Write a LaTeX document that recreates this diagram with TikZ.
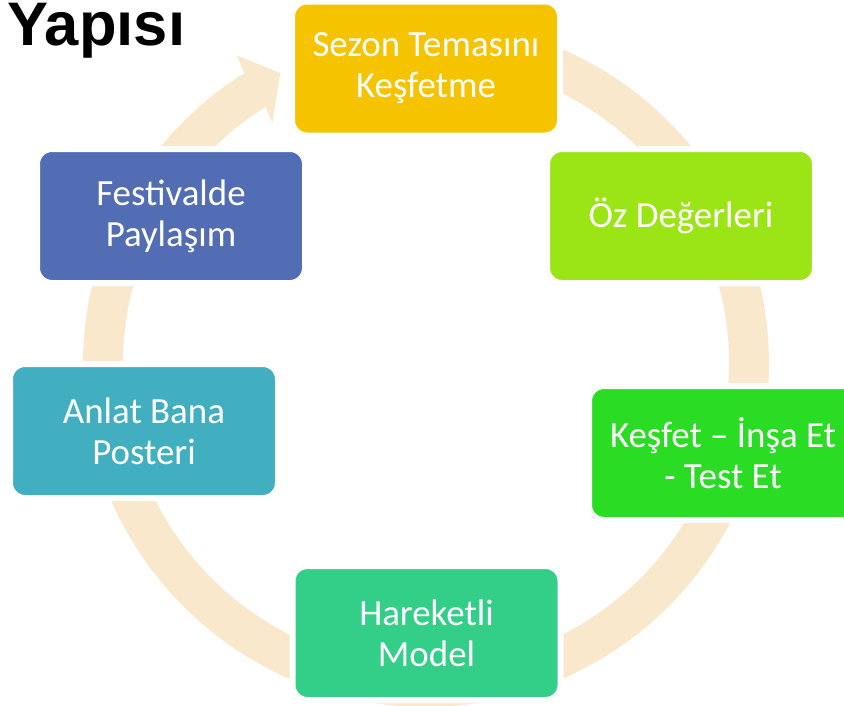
\documentclass[tikz,border=0pt]{standalone}
\usepackage{fontspec}
\setmainfont{Carlito}
\newfontfamily\titlefont{Liberation Sans}
\usepackage{tikz}
\usetikzlibrary{calc}
\definecolor{ringbeige}{RGB}{250,232,205}
\definecolor{cyyellow}{RGB}{245,195,0}
\definecolor{cylime}{RGB}{155,229,22}
\definecolor{cygreen}{RGB}{42,221,36}
\definecolor{cymint}{RGB}{51,206,136}
\definecolor{cyteal}{RGB}{65,175,192}
\definecolor{cyblue}{RGB}{83,109,180}
\tikzset{
    every node/.style={font=\fontsize{21}{23.3}\selectfont},
    cyclebox/.style={draw=white, line width=0.12cm, rounded corners=0.3cm, text=white,
        minimum width=5.36cm, minimum height=2.68cm, align=center},
    ring/.style={fill=ringbeige},
}

\begin{document}
\begin{tikzpicture}
  \useasboundingbox (0,0) rectangle (16.88,14.1);
  \coordinate (c) at (8.52,6.82);
  % circular arrow behind the boxes
  \fill[ring] ($(c)+(90:6.86)$) arc[start angle=90, end angle=-238, radius=6.86cm]
    -- ($(c)+(121.5:7.24)$) -- ($(c)+(116.6:6.51)$) -- ($(c)+(122.5:5.72)$)
    -- ($(c)+(122:6.06)$) arc[start angle=-238, end angle=90, radius=6.06cm] -- cycle;

  \node[cyclebox, fill=cyyellow] (sezon) at (8.52,12.73) {Sezon Temasını\\Keşfetme};
  \node[cyclebox, fill=cylime] (oz) at (13.62,9.78) {Öz Değerleri};
  \node[cyclebox, fill=cygreen] (kesfet) at (14.46,5.04) {Keşfet – İnşa Et\\- Test Et};
  \node[cyclebox, fill=cymint] (hareket) at (8.53,1.44) {Hareketli\\Model};
  \node[cyclebox, fill=cyteal] (anlat) at (2.88,5.48) {Anlat Bana\\Posteri};
  \node[cyclebox, fill=cyblue] (festival) at (3.42,9.78) {Festivalde\\Paylaşım};

  \node[anchor=base west, inner sep=0pt, font=\titlefont\bfseries\fontsize{35}{42}\selectfont] (baslik) at (0.14,13.2) {Yapısı};
\end{tikzpicture}
\end{document}
